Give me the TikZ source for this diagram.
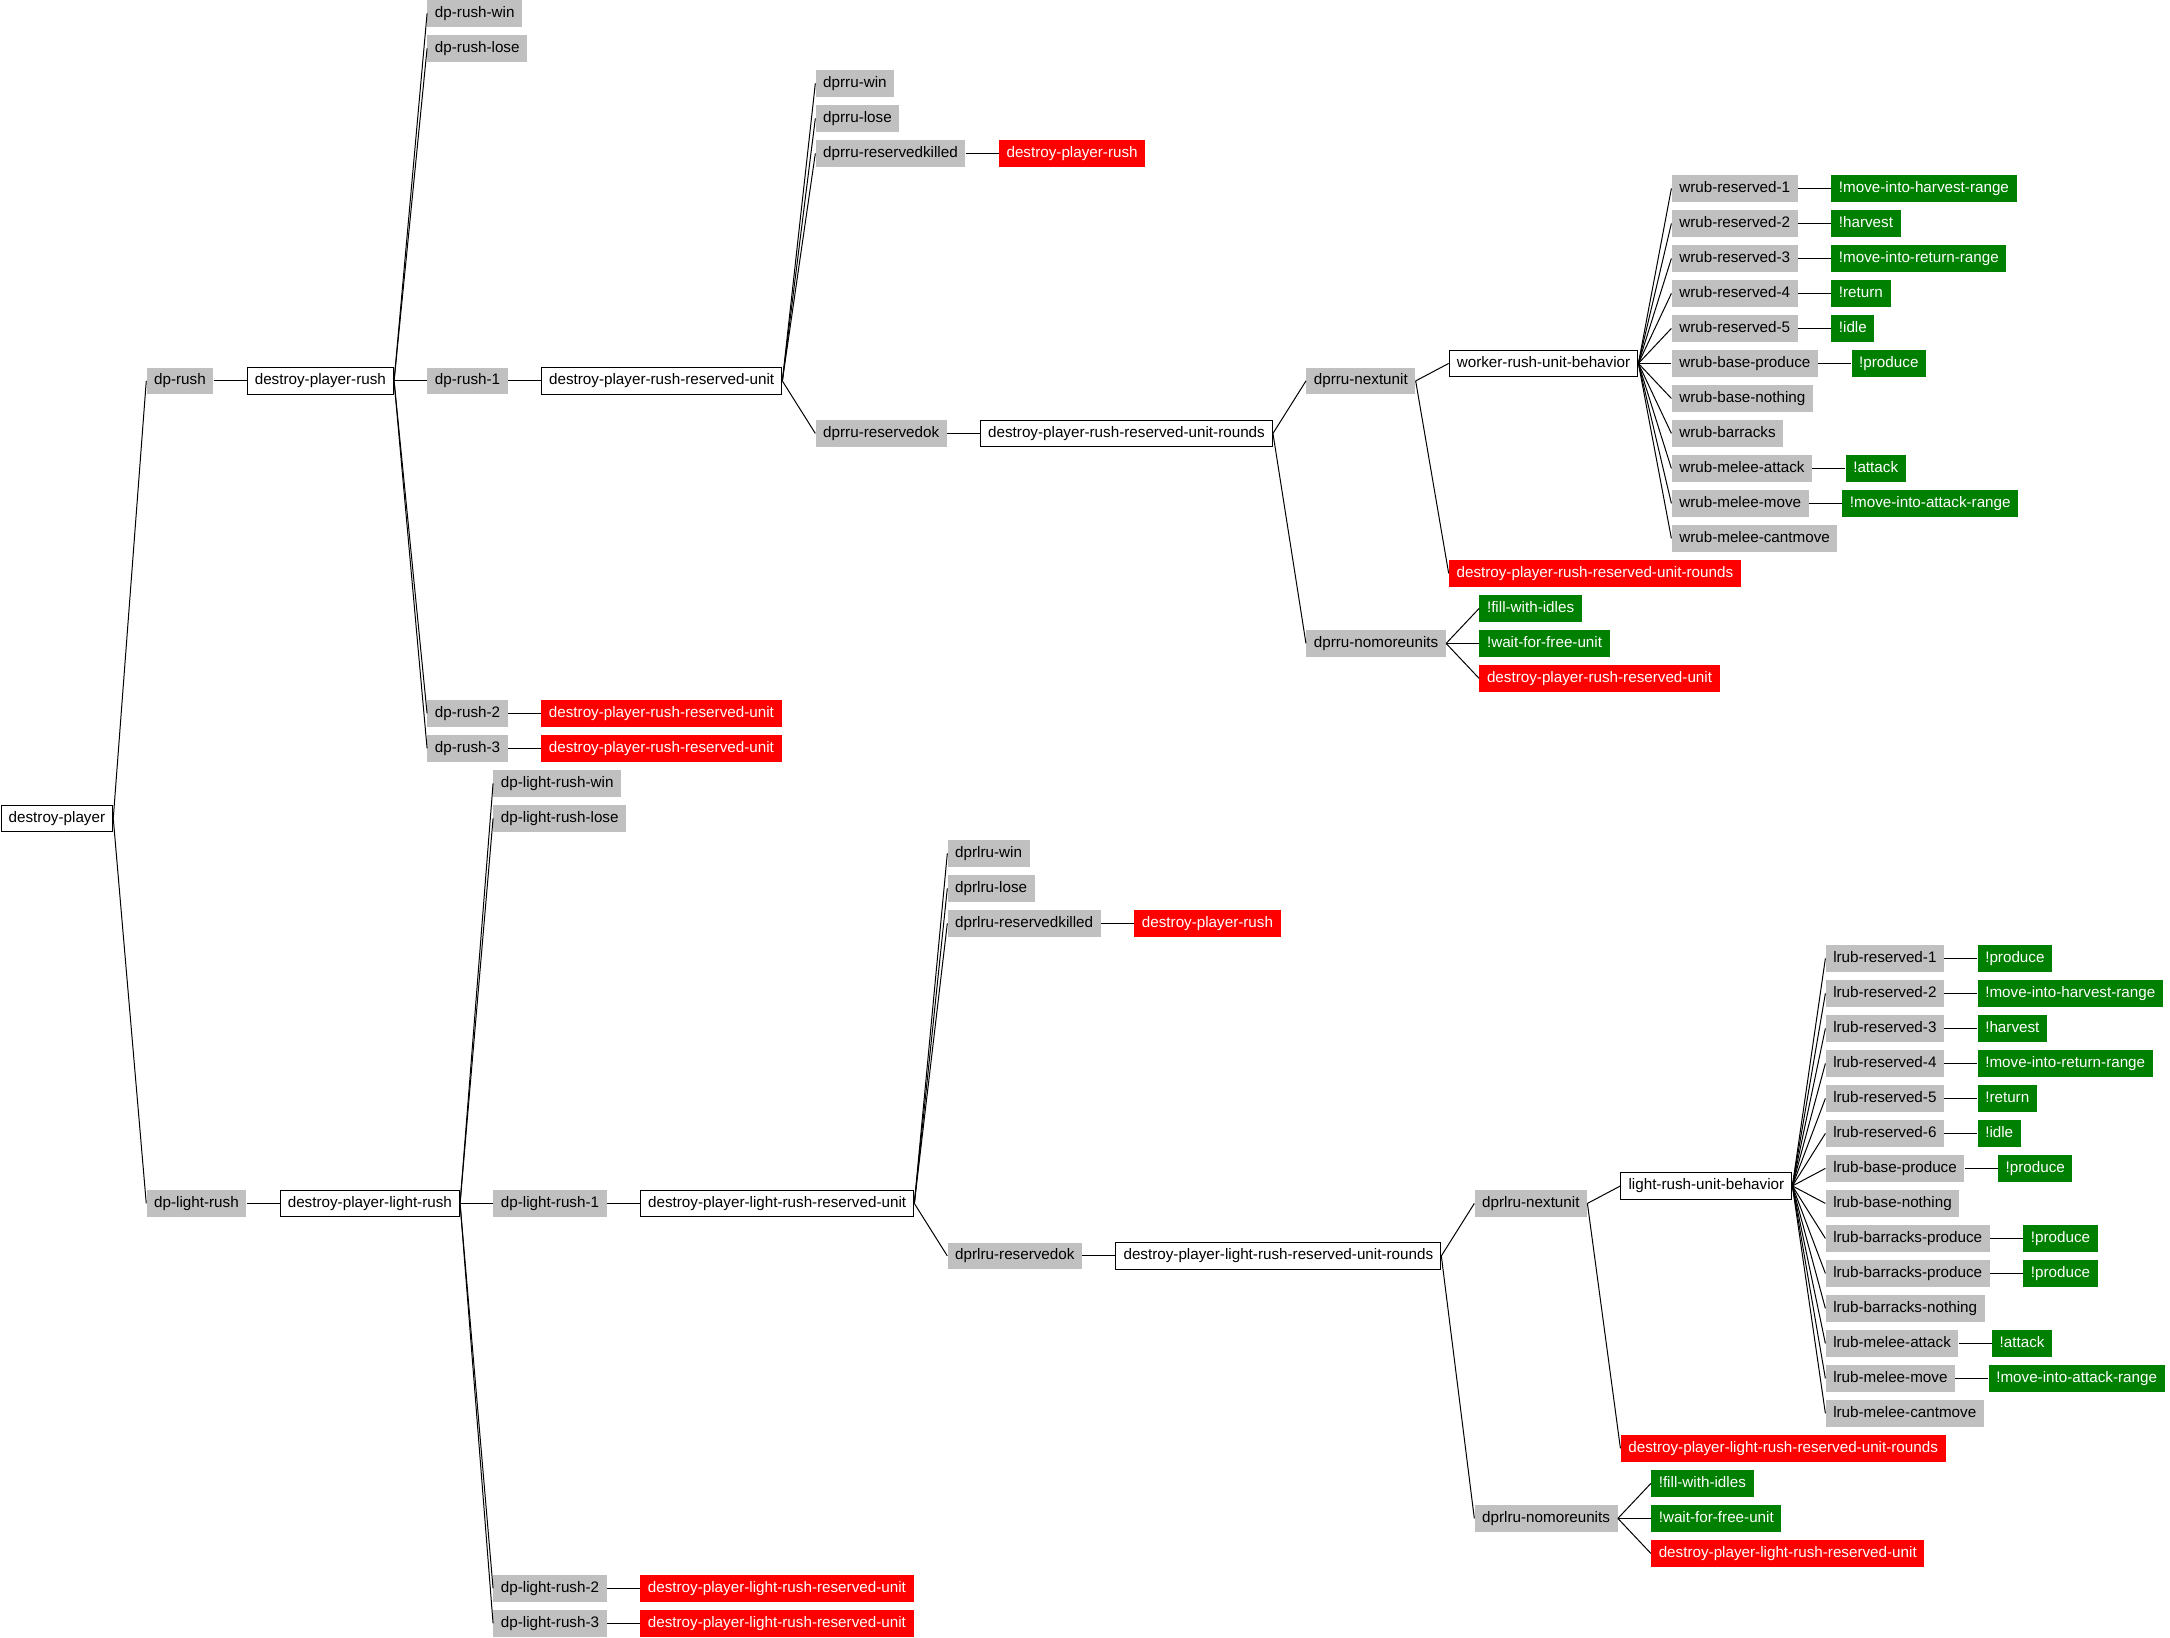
\documentclass[tikz,border=0pt]{standalone}
\usepackage{fontspec}
\setmainfont{Liberation Sans}
\definecolor{boxgray}{HTML}{C0C0C0}
\definecolor{boxred}{HTML}{FF0000}
\definecolor{boxgreen}{HTML}{008000}
\tikzset{
  base/.style={anchor=west, inner xsep=5.5pt, inner ysep=4.5pt, text height=8pt, text depth=2.3pt, font=\fontsize{11}{13}\selectfont},
  gbox/.style={base, fill=boxgray, text=black},
  wbox/.style={base, draw=black, line width=0.75pt, fill=white, text=black},
  rbox/.style={base, fill=boxred, text=white},
  kbox/.style={base, fill=boxgreen, text=white},
  conn/.style={draw=black, line width=0.72pt},
}
\newcommand\mynode[5]{%
  \pgfmathsetmacro\myy{9.7+25.29*#4}%
  \coordinate (tmpy) at (0,\myy);
  \node[#1,xshift=23.85pt] (#2) at (#3.east |- tmpy) {#5};
  \draw[conn] (#3.east) -- (#2.west);
}
\begin{document}
\begin{tikzpicture}[x=1pt,y=-1pt]
\useasboundingbox (0,0) rectangle (1568,1182.9);
\pgfmathsetmacro\myy{9.7+25.29*23}
\node[wbox,xshift=0.4pt] (dpl) at (0,\myy) {destroy-player};
% ---------------- rush ----------------
\mynode{gbox}{dprush}{dpl}{10.5}{dp-rush}
\mynode{wbox}{dpr}{dprush}{10.5}{destroy-player-rush}
\mynode{gbox}{dprwin}{dpr}{0}{dp-rush-win}
\mynode{gbox}{dprlose}{dpr}{1}{dp-rush-lose}
\mynode{gbox}{dpra}{dpr}{10.5}{dp-rush-1}
\mynode{gbox}{dprb}{dpr}{20}{dp-rush-2}
\mynode{gbox}{dprc}{dpr}{21}{dp-rush-3}
\mynode{rbox}{dprbc}{dprb}{20}{destroy-player-rush-reserved-unit}
\mynode{rbox}{dprcc}{dprc}{21}{destroy-player-rush-reserved-unit}
\mynode{wbox}{dprru}{dpra}{10.5}{destroy-player-rush-reserved-unit}
\mynode{gbox}{dprruwin}{dprru}{2}{dprru-win}
\mynode{gbox}{dprrulose}{dprru}{3}{dprru-lose}
\mynode{gbox}{dprrukill}{dprru}{4}{dprru-reservedkilled}
\mynode{rbox}{dprrukillc}{dprrukill}{4}{destroy-player-rush}
\mynode{gbox}{dprruok}{dprru}{12}{dprru-reservedok}
\mynode{wbox}{dprrur}{dprruok}{12}{destroy-player-rush-reserved-unit-rounds}
\mynode{gbox}{dprrunext}{dprrur}{10.5}{dprru-nextunit}
\mynode{gbox}{dprrunomore}{dprrur}{18}{dprru-nomoreunits}
\mynode{wbox}{wrub}{dprrunext}{10}{worker-rush-unit-behavior}
\mynode{rbox}{dprrunextr}{dprrunext}{16}{destroy-player-rush-reserved-unit-rounds}
\mynode{gbox}{wra}{wrub}{5}{wrub-reserved-1}
\mynode{gbox}{wrb}{wrub}{6}{wrub-reserved-2}
\mynode{gbox}{wrc}{wrub}{7}{wrub-reserved-3}
\mynode{gbox}{wrd}{wrub}{8}{wrub-reserved-4}
\mynode{gbox}{wre}{wrub}{9}{wrub-reserved-5}
\mynode{gbox}{wbp}{wrub}{10}{wrub-base-produce}
\mynode{gbox}{wbn}{wrub}{11}{wrub-base-nothing}
\mynode{gbox}{wbb}{wrub}{12}{wrub-barracks}
\mynode{gbox}{wma}{wrub}{13}{wrub-melee-attack}
\mynode{gbox}{wmm}{wrub}{14}{wrub-melee-move}
\mynode{gbox}{wmc}{wrub}{15}{wrub-melee-cantmove}
\mynode{kbox}{wrax}{wra}{5}{!move-into-harvest-range}
\mynode{kbox}{wrbx}{wrb}{6}{!harvest}
\mynode{kbox}{wrcx}{wrc}{7}{!move-into-return-range}
\mynode{kbox}{wrdx}{wrd}{8}{!return}
\mynode{kbox}{wrex}{wre}{9}{!idle}
\mynode{kbox}{wbpx}{wbp}{10}{!produce}
\mynode{kbox}{wmax}{wma}{13}{!attack}
\mynode{kbox}{wmmx}{wmm}{14}{!move-into-attack-range}
\mynode{kbox}{dprrufill}{dprrunomore}{17}{!fill-with-idles}
\mynode{kbox}{dprruwait}{dprrunomore}{18}{!wait-for-free-unit}
\mynode{rbox}{dprruagain}{dprrunomore}{19}{destroy-player-rush-reserved-unit}
% ---------------- light rush ----------------
\mynode{gbox}{dplrush}{dpl}{34}{dp-light-rush}
\mynode{wbox}{dplr}{dplrush}{34}{destroy-player-light-rush}
\mynode{gbox}{dplrwin}{dplr}{22}{dp-light-rush-win}
\mynode{gbox}{dplrlose}{dplr}{23}{dp-light-rush-lose}
\mynode{gbox}{dplra}{dplr}{34}{dp-light-rush-1}
\mynode{gbox}{dplrb}{dplr}{45}{dp-light-rush-2}
\mynode{gbox}{dplrc}{dplr}{46}{dp-light-rush-3}
\mynode{rbox}{dplrbc}{dplrb}{45}{destroy-player-light-rush-reserved-unit}
\mynode{rbox}{dplrcc}{dplrc}{46}{destroy-player-light-rush-reserved-unit}
\mynode{wbox}{dplrru}{dplra}{34}{destroy-player-light-rush-reserved-unit}
\mynode{gbox}{lruwin}{dplrru}{24}{dprlru-win}
\mynode{gbox}{lrulose}{dplrru}{25}{dprlru-lose}
\mynode{gbox}{lrukill}{dplrru}{26}{dprlru-reservedkilled}
\mynode{rbox}{lrukillc}{lrukill}{26}{destroy-player-rush}
\mynode{gbox}{lruok}{dplrru}{35.5}{dprlru-reservedok}
\mynode{wbox}{lrur}{lruok}{35.5}{destroy-player-light-rush-reserved-unit-rounds}
\mynode{gbox}{lrunext}{lrur}{34}{dprlru-nextunit}
\mynode{gbox}{lrunomore}{lrur}{43}{dprlru-nomoreunits}
\mynode{wbox}{lrub}{lrunext}{33.5}{light-rush-unit-behavior}
\mynode{rbox}{lrunextr}{lrunext}{41}{destroy-player-light-rush-reserved-unit-rounds}
\mynode{gbox}{lra}{lrub}{27}{lrub-reserved-1}
\mynode{gbox}{lrb}{lrub}{28}{lrub-reserved-2}
\mynode{gbox}{lrc}{lrub}{29}{lrub-reserved-3}
\mynode{gbox}{lrd}{lrub}{30}{lrub-reserved-4}
\mynode{gbox}{lre}{lrub}{31}{lrub-reserved-5}
\mynode{gbox}{lrf}{lrub}{32}{lrub-reserved-6}
\mynode{gbox}{lbp}{lrub}{33}{lrub-base-produce}
\mynode{gbox}{lbn}{lrub}{34}{lrub-base-nothing}
\mynode{gbox}{lbpa}{lrub}{35}{lrub-barracks-produce}
\mynode{gbox}{lbpb}{lrub}{36}{lrub-barracks-produce}
\mynode{gbox}{lbbn}{lrub}{37}{lrub-barracks-nothing}
\mynode{gbox}{lma}{lrub}{38}{lrub-melee-attack}
\mynode{gbox}{lmm}{lrub}{39}{lrub-melee-move}
\mynode{gbox}{lmc}{lrub}{40}{lrub-melee-cantmove}
\mynode{kbox}{lrax}{lra}{27}{!produce}
\mynode{kbox}{lrbx}{lrb}{28}{!move-into-harvest-range}
\mynode{kbox}{lrcx}{lrc}{29}{!harvest}
\mynode{kbox}{lrdx}{lrd}{30}{!move-into-return-range}
\mynode{kbox}{lrex}{lre}{31}{!return}
\mynode{kbox}{lrfx}{lrf}{32}{!idle}
\mynode{kbox}{lbpx}{lbp}{33}{!produce}
\mynode{kbox}{lbpax}{lbpa}{35}{!produce}
\mynode{kbox}{lbpbx}{lbpb}{36}{!produce}
\mynode{kbox}{lmax}{lma}{38}{!attack}
\mynode{kbox}{lmmx}{lmm}{39}{!move-into-attack-range}
\mynode{kbox}{lrufill}{lrunomore}{42}{!fill-with-idles}
\mynode{kbox}{lruwait}{lrunomore}{43}{!wait-for-free-unit}
\mynode{rbox}{lruagain}{lrunomore}{44}{destroy-player-light-rush-reserved-unit}
\end{tikzpicture}
\end{document}
